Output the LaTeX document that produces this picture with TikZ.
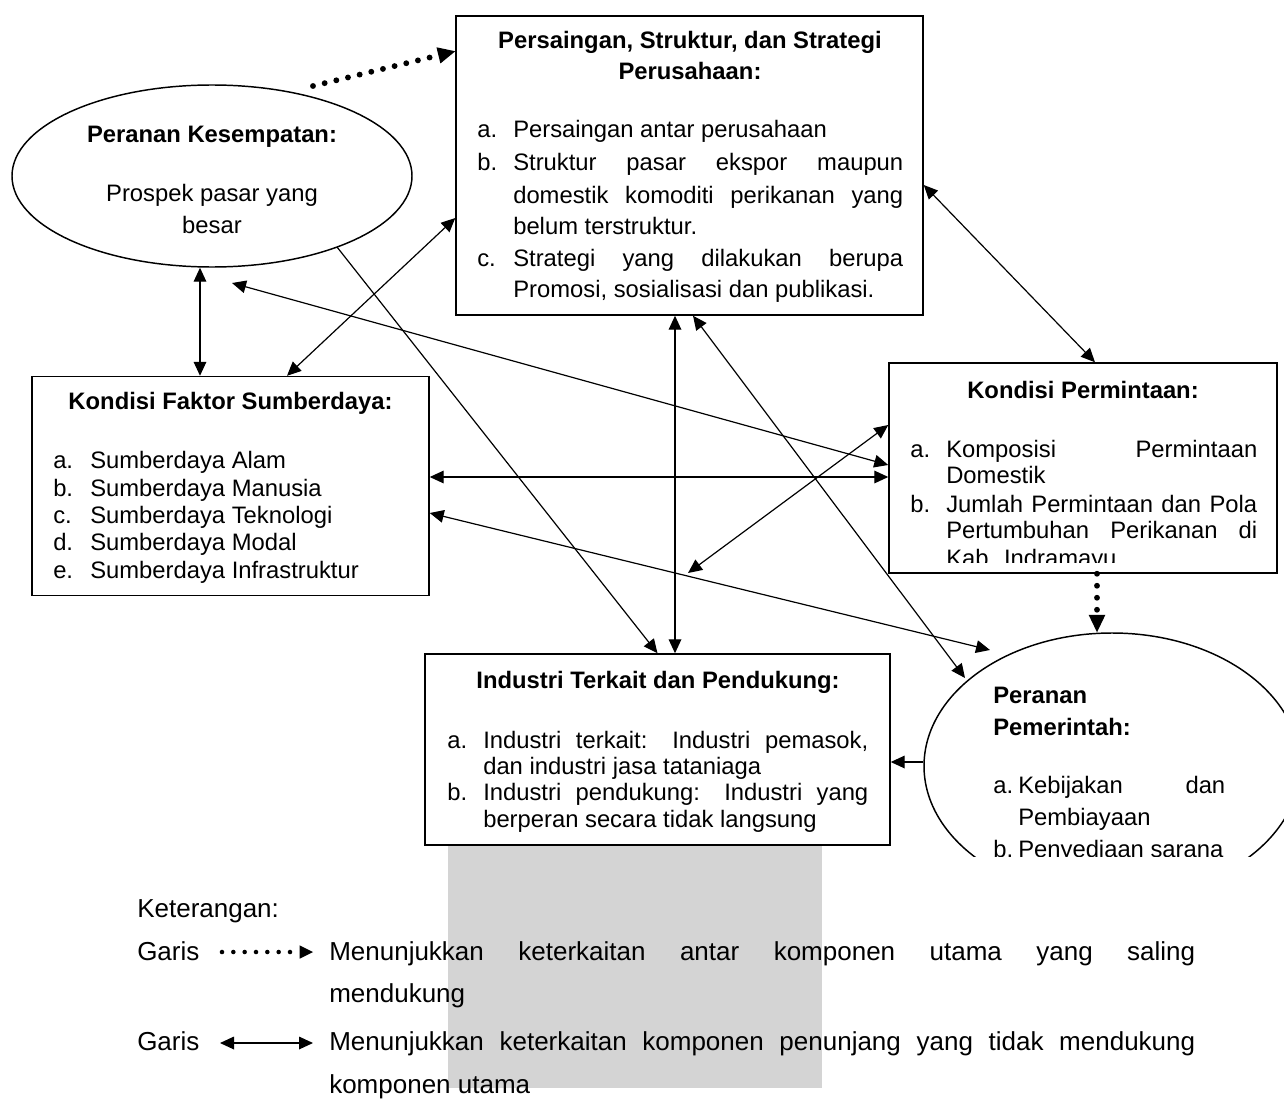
\documentclass[tikz,border=0pt]{standalone}
\usepackage{fontspec}
\setmainfont{Liberation Sans}
\usetikzlibrary{arrows.meta,shapes.geometric,calc}
\newlength\pxu \setlength\pxu{0.75pt}
\newcommand\jl[2]{\makebox[#1\pxu][s]{#2}}
\newcommand\bodyfont{\fontsize{17.85pt}{20pt}\selectfont}
\newcommand\legfont{\fontsize{19.5pt}{22pt}\selectfont}
\tikzset{
 box/.style={draw, line width=1.1pt, fill=white, rectangle, inner sep=0pt},
 oval/.style={draw, line width=1.1pt, fill=white, ellipse, inner sep=0pt},
 txt/.style={inner sep=0pt, anchor=base west, font=\bodyfont},
 ttl/.style={inner sep=0pt, anchor=base, font=\bodyfont\bfseries},
 ctr/.style={inner sep=0pt, anchor=base, font=\bodyfont},
 btl/.style={inner sep=0pt, anchor=base west, font=\bodyfont\bfseries},
 leg/.style={inner sep=0pt, anchor=base west, font=\legfont},
 link/.style={line width=0.9pt, {Triangle[length=10.5pt,width=9.5pt]}-{Triangle[length=10.5pt,width=9.5pt]}},
 onelink/.style={line width=0.9pt, -{Triangle[length=10.5pt,width=9.5pt]}},
 dotlink/.style={line width=4.4pt, line cap=round, dash pattern=on 0pt off 9pt, -{Triangle[length=13pt,width=12.5pt,line width=0pt]}},
 legdot/.style={line width=3.4pt, line cap=round, dash pattern=on 0pt off 8.5pt, -{Triangle[length=10pt,width=10pt,line width=0pt]}},
}
\begin{document}
\begin{tikzpicture}[x=0.75pt,y=-0.75pt]
\useasboundingbox (0,0) rectangle (1284,1102);
% watermark backdrop
\fill[black!17] (448,840) rectangle (822,1088);

% ---- boxes ----
\node[box, minimum width=350.25pt, minimum height=224.25pt] (P) at (689.5,165.5) {};
\node[box, minimum width=297.75pt, minimum height=164.25pt] (F) at (230.5,486) {};
\node[box, minimum width=291pt, minimum height=157.5pt] (D) at (1083,468) {};
\node[box, minimum width=348.75pt, minimum height=143.25pt] (I) at (657.5,749.5) {};
\node[oval, minimum width=300pt, minimum height=136.5pt] (K) at (212,176) {};
\begin{scope}
\clip (880,600) rectangle (1284,856);
\node[oval, minimum width=282pt, minimum height=199.5pt] (G) at (1112,766) {};
\node[btl] (gt1) at (993,703) {Peranan};
\node[btl] (gt2) at (993,735) {Pemerintah:};
\node[txt] (ga) at (993,793) {a.};
\node[txt] (ga1) at (1018,793) {\jl{207}{Kebijakan dan}};
\node[txt] (ga2) at (1018,825) {Pembiayaan};
\node[txt] (gb) at (993,857) {b.};
\node[txt] (gb1) at (1018,857) {Penyediaan sarana};
\end{scope}

% ---- P text ----
\node[ttl] (pt1) at (690,49) {Persaingan, Struktur, dan Strategi};
\node[ttl] (pt2) at (690,80) {Perusahaan:};
\node[txt] (pa) at (477,138) {a.};
\node[txt] (pa1) at (513,138) {Persaingan antar perusahaan};
\node[txt] (pb) at (477,171) {b.};
\node[txt] (pb1) at (513,171) {\jl{390}{Struktur pasar ekspor maupun}};
\node[txt] (pb2) at (513,203) {\jl{390}{domestik komoditi perikanan yang}};
\node[txt] (pb3) at (513,234) {belum terstruktur.};
\node[txt] (pc) at (477,266) {c.};
\node[txt] (pc1) at (513,266) {\jl{390}{Strategi yang dilakukan berupa}};
\node[txt] (pc2) at (513,297) {Promosi, sosialisasi dan publikasi.};

% ---- K text ----
\node[ttl] (kt) at (212,143) {Peranan Kesempatan:};
\node[ctr] (k1) at (212,201) {Prospek pasar yang};
\node[ctr] (k2) at (212,233) {besar};

% ---- F text ----
\node[ttl] (ft) at (230.5,409) {Kondisi Faktor Sumberdaya:};
\node[txt] (fa) at (53,468) {a.};
\node[txt] (fa1) at (90,468) {Sumberdaya Alam};
\node[txt] (fb) at (53,496) {b.};
\node[txt] (fb1) at (90,496) {Sumberdaya Manusia};
\node[txt] (fc) at (53,523) {c.};
\node[txt] (fc1) at (90,523) {Sumberdaya Teknologi};
\node[txt] (fd) at (53,550) {d.};
\node[txt] (fd1) at (90,550) {Sumberdaya Modal};
\node[txt] (fe) at (53,578) {e.};
\node[txt] (fe1) at (90,578) {Sumberdaya Infrastruktur};

% ---- D text ----
\node[ttl] (dt) at (1083,398) {Kondisi Permintaan:};
\begin{scope}
\clip (889,363) rectangle (1277,562);
\node[txt] (da) at (910,457) {a.};
\node[txt] (da1) at (946,457) {\jl{311}{Komposisi Permintaan}};
\node[txt] (da2) at (946,483) {Domestik};
\node[txt] (db) at (910,512) {b.};
\node[txt] (db1) at (946,512) {\jl{311}{Jumlah Permintaan dan Pola}};
\node[txt] (db2) at (946,538) {\jl{311}{Pertumbuhan Perikanan di}};
\node[txt] (db3) at (946,566) {Kab. Indramayu};
\end{scope}

% ---- I text ----
\node[ttl] (it) at (658,688) {Industri Terkait dan Pendukung:};
\node[txt] (ia) at (447,748) {a.};
\node[txt] (ia1) at (483,748) {\jl{385}{Industri terkait: Industri pemasok,}};
\node[txt] (ia2) at (483,774) {dan industri jasa tataniaga};
\node[txt] (ib) at (447,800) {b.};
\node[txt] (ib1) at (483,800) {\jl{385}{Industri pendukung: Industri yang}};
\node[txt] (ib2) at (483,827) {berperan secara tidak langsung};

% ---- connectors ----
\coordinate (kdot) at (313,86);
\coordinate (dfree) at (688,573);
\draw[dotlink] (kdot) -- ($(P.north west)+(0,36)$);
\draw[dotlink] ($(D.south)+(14,0)$) -- ($(G.north)+(-15,0)$);
\draw[link] ($(K.south)+(-12,0)$) -- ($(F.north)+(-30.5,0)$);
\draw[link] ($(F.north)+(56.5,0)$) -- ($(P.west)+(0,52.5)$);
\draw[link] ($(P.east)+(0,19.5)$) -- ($(D.north)+(12,0)$);
\draw[link] ($(K.center)+(20,107)$) -- ($(D.west)+(0,-3)$);
\draw[link] ($(F.east)+(0,-9)$) -- ($(D.west)+(0,9)$);
\draw[link] ($(F.east)+(0,27)$) -- ($(G.center)+(-122,-116)$);
\draw[onelink] ($(K.center)+(125,71)$) -- (I.north);
\draw[link] ($(P.south)+(-14.5,0)$) -- ($(I.north)+(17.5,0)$);
\draw[link] ($(P.south)+(3.5,0)$) -- ($(G.center)+(-147,-88)$);
\draw[link] ($(D.west)+(0,-43)$) -- (dfree);
\draw[onelink] ($(G.west)+(0,-4)$) -- ($(I.east)+(0,12.5)$);

% ---- legend ----
\node[leg] (ket) at (137,917) {Keterangan:};
\node[leg] (g1) at (137,960) {Garis};
\coordinate (ld1) at (222,952);
\coordinate (ld2) at (313,952);
\draw[legdot] (ld1) -- (ld2);
\node[leg] (m1) at (329,960) {\jl{866}{Menunjukkan keterkaitan antar komponen utama yang saling}};
\node[leg] (m2) at (329,1002) {mendukung};
\node[leg] (g2) at (137,1050) {Garis};
\coordinate (la1) at (220,1043);
\coordinate (la2) at (313,1043);
\draw[link] (la1) -- (la2);
\node[leg] (m3) at (329,1050) {\jl{866}{Menunjukkan keterkaitan komponen penunjang yang tidak mendukung}};
\node[leg] (m4) at (329,1093) {komponen utama};
\end{tikzpicture}
\end{document}
